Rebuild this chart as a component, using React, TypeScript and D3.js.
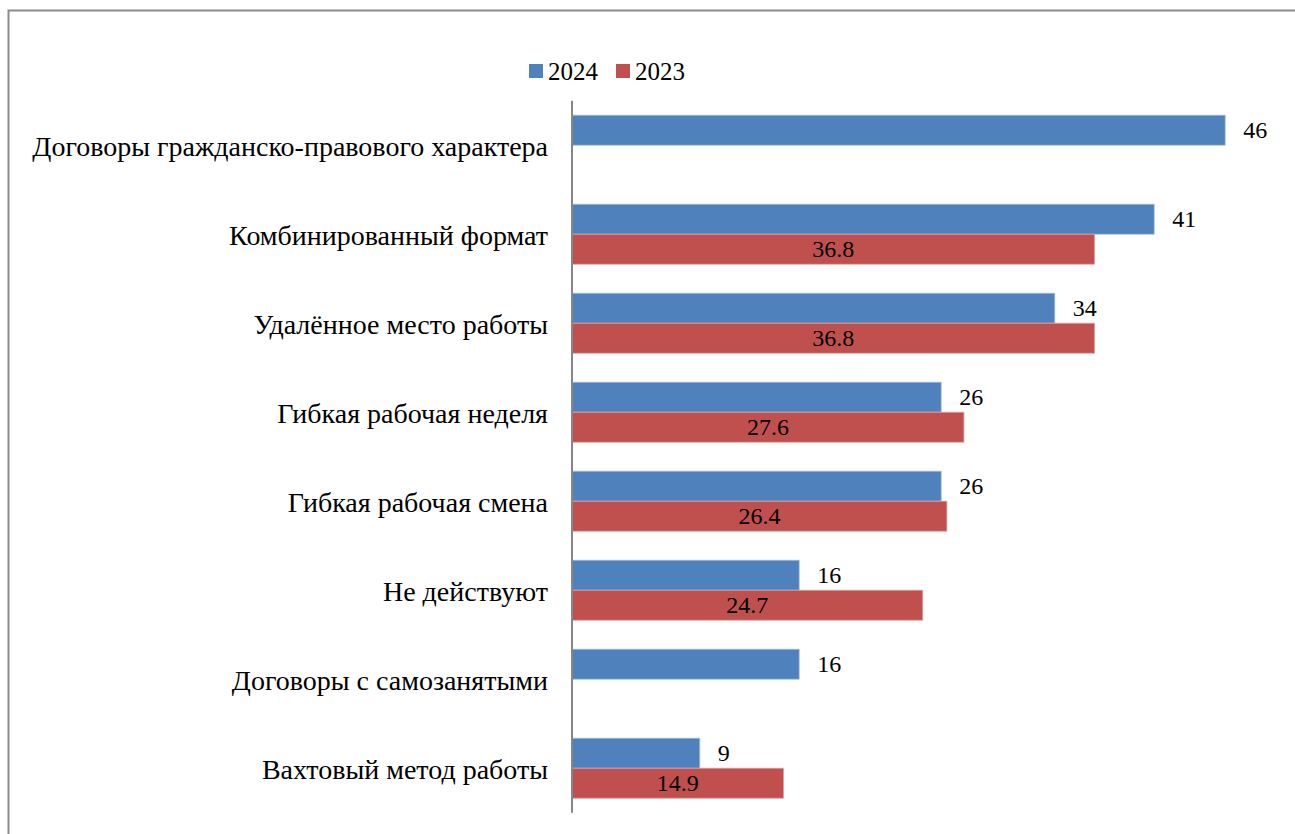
import React from "react";
import * as d3 from "d3";

const categories = [
  "Договоры гражданско-правового характера",
  "Комбинированный формат",
  "Удалённое место работы",
  "Гибкая рабочая неделя",
  "Гибкая рабочая смена",
  "Не действуют",
  "Договоры с самозанятыми",
  "Вахтовый метод работы",
];
const values2024: (number | null)[] = [46, 41, 34, 26, 26, 16, 16, 9];
const values2023: (number | null)[] = [null, 36.8, 36.8, 27.6, 26.4, 24.7, null, 14.9];
const seriesNames = ["2024", "2023"];
const colors = ["#4F81BD", "#C0504D"];

const W = 1295;
const H = 834;

export default function App() {
  const x = d3.scaleLinear().domain([0, 50]).range([572, 1282]);
  const y = d3.scaleBand().domain(categories).range([100.7, 812.7]).paddingInner(0).paddingOuter(0);
  const inner = d3.scaleBand().domain(seriesNames).range([0, y.bandwidth()]).paddingInner(0).paddingOuter(0.483);

  const fmt = (v: number) => (Number.isInteger(v) ? String(v) : v.toFixed(1));

  return (
    <div style={{ position: "absolute", left: 0, top: 0, width: W, height: H, fontFamily: "Liberation Serif" }}>
      <svg width={W} height={H} style={{ display: "block" }}>
        <rect x={8.5} y={10.5} width={1400} height={1000} fill="none" stroke="#8c8c8c" strokeWidth={2} />

        {seriesNames.map((s, i) => {
          const lx = 529 + i * 87;
          return (
            <g key={s}>
              <rect x={lx} y={64} width={14} height={14} fill={colors[i]} />
              <text x={lx + 19} y={80} fontSize={25}>
                {s}
              </text>
            </g>
          );
        })}

        {categories.map((c, ci) => {
          const vals = [values2024[ci], values2023[ci]];
          return (
            <g key={c}>
              {vals.map((v, si) => {
                if (v == null) return null;
                const by = (y(c) as number) + (inner(seriesNames[si]) as number);
                const bh = inner.bandwidth();
                const x0 = x(0);
                const x1 = x(v);
                return (
                  <g key={si}>
                    <rect
                      x={x0}
                      y={by}
                      width={x1 - x0}
                      height={bh}
                      fill={colors[si]}
                      stroke={si === 0 ? "#a7c0de" : "#dba3a2"}
                      strokeWidth={0.8}
                    />
                    <text
                      x={si === 0 ? x1 + 18 : (x0 + x1) / 2}
                      y={by + bh / 2 + 8}
                      textAnchor={si === 0 ? "start" : "middle"}
                      fontSize={24}
                    >
                      {fmt(v)}
                    </text>
                  </g>
                );
              })}
              <text x={548} y={(y(c) as number) + y.bandwidth() / 2 + 11} textAnchor="end" fontSize={28}>
                {c}
              </text>
            </g>
          );
        })}

        <line x1={572} x2={572} y1={100.7} y2={812.7} stroke="#868686" strokeWidth={2} />
      </svg>
    </div>
  );
}
